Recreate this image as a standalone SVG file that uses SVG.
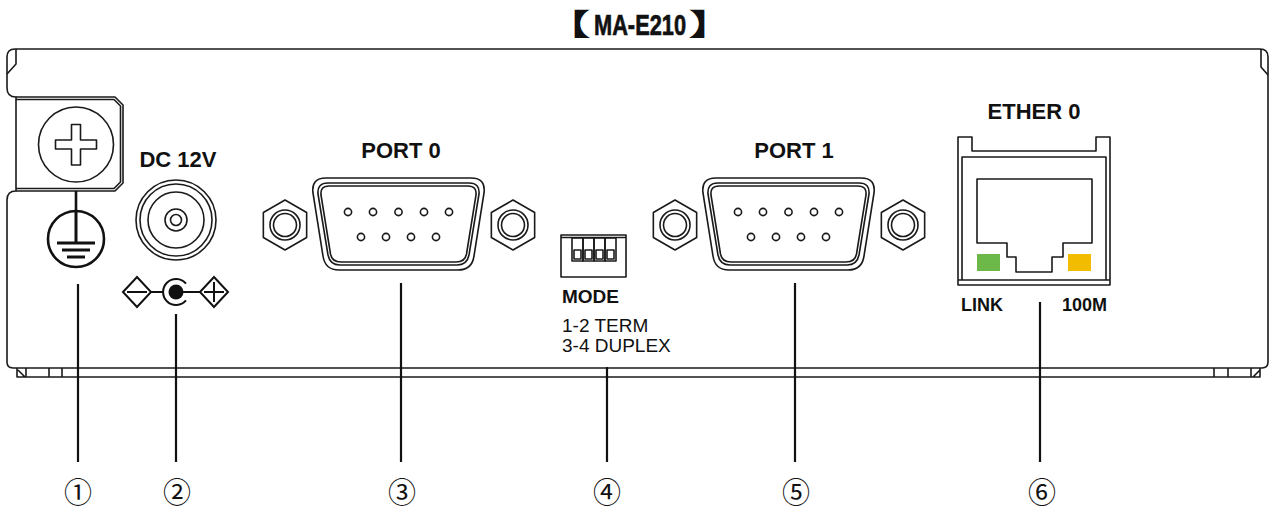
<svg xmlns="http://www.w3.org/2000/svg" xmlns:xlink="http://www.w3.org/1999/xlink" width="1271" height="511" viewBox="0 0 1271 511">
<style>
.ln{fill:none;stroke:#1a1a1a;stroke-width:1.6;stroke-linejoin:round}
.thk{fill:none;stroke:#111;stroke-width:2.6}
.lead{stroke:#111;stroke-width:2.2;fill:none}
.lb{font-family:"Liberation Sans",Arial,sans-serif;font-weight:bold;fill:#111}
.lr{font-family:"Liberation Sans",Arial,sans-serif;fill:#111}
.cjk{font-family:"Noto Sans CJK JP",sans-serif;font-weight:bold;fill:#111}
.num{font-family:"Noto Sans CJK JP","DejaVu Sans",sans-serif;font-size:28px;fill:#111;text-anchor:middle}
</style>
<defs>
<g id="nut">
<polygon class="ln" points="0,-25 21.65,-12.5 21.65,12.5 0,25 -21.65,12.5 -21.65,-12.5"/>
<circle class="ln" r="15"/>
<circle class="ln" r="11.5"/>
</g>
<g id="db9">
<use xlink:href="#nut" x="285" y="225"/>
<use xlink:href="#nut" x="513" y="225"/>
<path class="ln" d="M 326 178 H 471 Q 486 178 484 193 L 474 256 Q 472 270 458 270 H 339 Q 325 270 323 256 L 313 193 Q 311 178 326 178 Z"/>
<path class="ln" d="M 328 183 H 469 Q 480 183 479 194 L 469 255 Q 467 265 457 265 H 340 Q 330 265 328 255 L 318 194 Q 317 183 328 183 Z"/>
<path class="ln" d="M 329 186 H 468 Q 477 186 476 195 L 466.5 254 Q 465 262 456 262 H 341 Q 332 262 330.5 254 L 321 195 Q 320 186 329 186 Z"/>
<g class="ln">
<circle cx="348" cy="212" r="3.6"/><circle cx="373" cy="212" r="3.6"/><circle cx="398.5" cy="212" r="3.6"/><circle cx="424" cy="212" r="3.6"/><circle cx="449" cy="212" r="3.6"/>
<circle cx="361" cy="237" r="3.6"/><circle cx="386" cy="237" r="3.6"/><circle cx="411" cy="237" r="3.6"/><circle cx="436" cy="237" r="3.6"/>
</g>
</g>
</defs>
<rect width="1271" height="511" fill="#fff"/>

<g id="title">
<text class="cjk" font-size="30" text-anchor="end" transform="translate(591,35) scale(1.6,1)">【</text>
<text class="lb" x="594" y="35" font-size="30" textLength="92" lengthAdjust="spacingAndGlyphs" stroke="#111" stroke-width="0.7">MA-E210</text>
<text class="cjk" font-size="30" transform="translate(688,35) scale(1.6,1)">】</text>
</g>

<g id="panel">
<path class="ln" d="M 15 49 H 1260 Q 1268 49 1268 57 V 362 Q 1268 368 1262 368 H 13 Q 7 368 7 362 V 200 Q 7 191 16 191 V 97 Q 7 97 7 88 V 57 Q 7 49 15 49 Z"/>
<path class="ln" d="M 16 49 V 64 L 7 74 M 1261 49 V 67 L 1268 75"/>
<path class="ln" d="M 17 368 V 377 H 1260 V 368 M 26 368 V 377 M 49 368 V 377 M 62 368 V 377 M 1214 368 V 377 M 1228 368 V 377 M 1251 368 V 377 M 18 370 L 25 377 M 1253 377 L 1260 370"/>
</g>

<g id="ground">
<path class="ln" d="M 16 97 H 115 L 123 105 V 183 L 115 191 H 16"/>
<path class="ln" d="M 16 99.5 H 114 L 120.5 106 V 182 L 114 188.5 H 16"/>
<circle class="ln" cx="76" cy="144.5" r="37.5"/>
<path class="ln" d="M 71.5 124.5 H 80.5 V 140 H 96.5 V 149 H 80.5 V 165 H 71.5 V 149 H 55.5 V 140 H 71.5 Z"/>
<path class="thk" d="M 76 191 V 211"/>
<circle class="thk" cx="76" cy="239" r="28"/>
<path class="thk" style="stroke-width:3" d="M 76 211 V 243 M 57 243 H 95 M 62 250 H 90 M 67 257 H 85"/>
</g>

<g id="dc">
<text class="lb" x="178" y="167" font-size="22" text-anchor="middle">DC 12V</text>
<g class="ln">
<circle cx="176" cy="220" r="40"/>
<circle cx="176" cy="220" r="36"/>
<circle cx="176" cy="220" r="28"/>
<circle cx="176" cy="220" r="11"/>
<circle cx="176" cy="220" r="5.5"/>
</g>
<g style="fill:none;stroke:#111;stroke-width:2">
<path d="M 123 292 L 137 277 L 151 292 L 137 307 Z M 127 292 H 147 M 151 292 H 163"/>
<path d="M 186 283.6 A 13 13 0 1 0 186 300.4"/>
<path d="M 176 292 H 200 M 200 292 L 214 277 L 228 292 L 214 307 Z M 204 292 H 224 M 214 282 V 302"/>
</g>
<circle cx="176" cy="292" r="7.5" fill="#111"/>
</g>

<g id="port0">
<text class="lb" x="401" y="158" font-size="22" text-anchor="middle">PORT 0</text>
<use xlink:href="#db9"/>
</g>

<g id="mode">
<rect class="ln" x="561" y="235" width="65" height="42"/>
<path class="ln" d="M 561 237.5 H 626"/>
<g class="ln">
<rect x="572" y="238" width="11" height="23"/><rect x="574" y="250" width="7" height="9"/>
<rect x="583" y="238" width="11" height="23"/><rect x="585" y="250" width="7" height="9"/>
<rect x="594" y="238" width="11" height="23"/><rect x="596" y="250" width="7" height="9"/>
<rect x="605" y="238" width="11" height="23"/><rect x="607" y="250" width="7" height="9"/>
</g>
<text class="lb" x="562" y="303" font-size="19">MODE</text>
<text class="lr" x="562" y="332" font-size="19">1-2 TERM</text>
<text class="lr" x="562" y="352" font-size="19">3-4 DUPLEX</text>
</g>

<g id="port1">
<text class="lb" x="794" y="158" font-size="22" text-anchor="middle">PORT 1</text>
<use xlink:href="#db9" x="390"/>
</g>

<g id="ether0">
<text class="lb" x="1034" y="119" font-size="22" text-anchor="middle">ETHER 0</text>
<path class="ln" d="M 958 285 V 137 H 972 V 151 H 1096 V 137 H 1110 V 285 Z"/>
<path class="ln" d="M 962 280 V 157 H 1106 V 280 M 958 280 H 1110"/>
<path class="ln" d="M 977 179 H 1092 V 243 H 1063 V 257 H 1052 V 272 H 1016 V 257 H 1007 V 243 H 977 Z"/>
<rect x="977" y="254" width="23" height="17" fill="#6cb94a"/>
<rect x="1068" y="254" width="23" height="17" fill="#f2bc00"/>
<text class="lb" x="961" y="311" font-size="18">LINK</text>
<text class="lb" x="1062" y="311" font-size="18">100M</text>
</g>

<g id="connectors">
<path class="lead" d="M 78 284 V 462"/>
<path class="lead" d="M 176 314 V 462"/>
<path class="lead" d="M 401 283 V 462"/>
<path class="lead" d="M 607 367 V 462"/>
<path class="lead" d="M 795 283 V 462"/>
<path class="lead" d="M 1040 302 V 462"/>
</g>

<g id="numbers">
<text class="num" x="78" y="503">①</text>
<text class="num" x="177" y="503">②</text>
<text class="num" x="402" y="503">③</text>
<text class="num" x="607" y="503">④</text>
<text class="num" x="796" y="503">⑤</text>
<text class="num" x="1042" y="503">⑥</text>
</g>
</svg>
